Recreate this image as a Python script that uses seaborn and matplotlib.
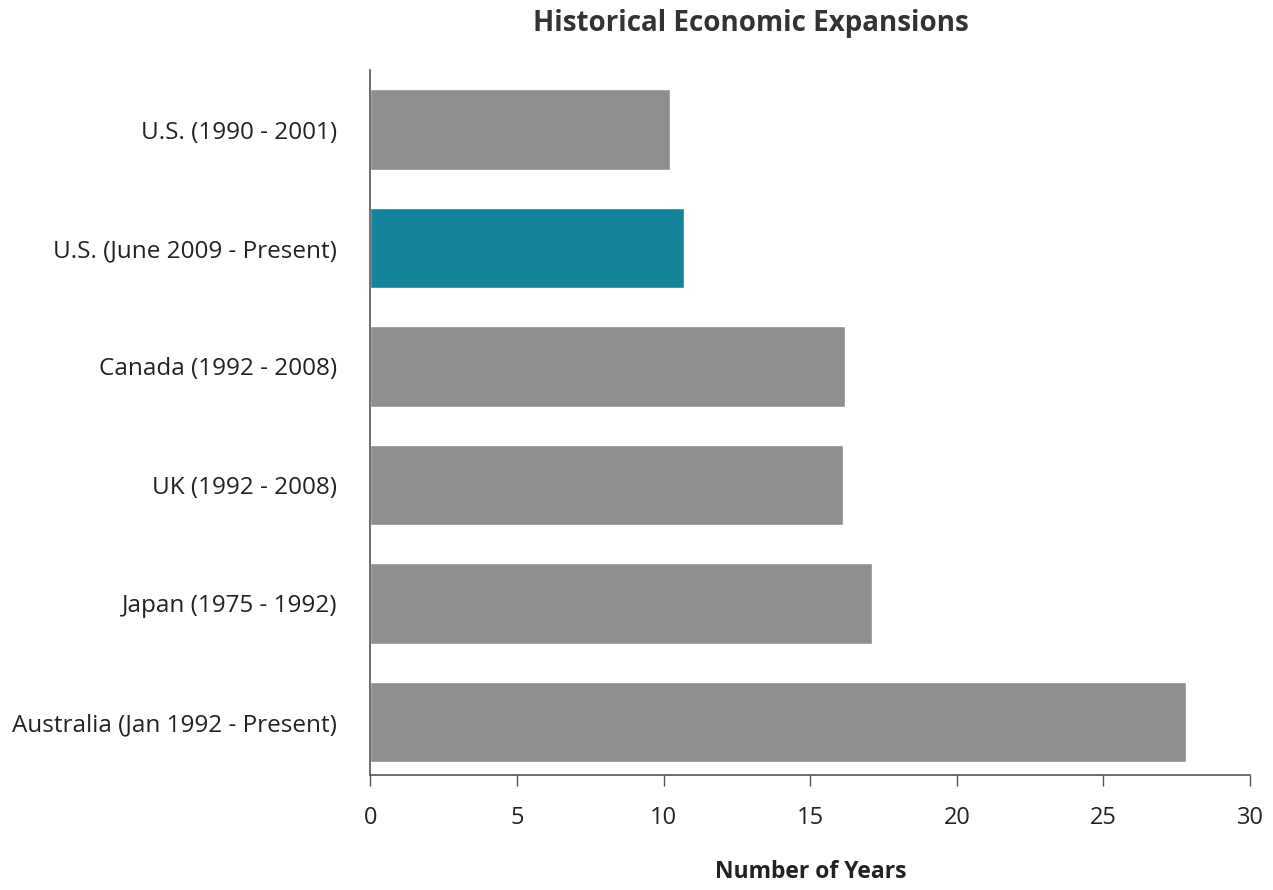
import matplotlib
matplotlib.use("Agg")
import matplotlib.pyplot as plt
import seaborn as sns
import pandas as pd

# Length of each expansion, in years
expansions = [
    "U.S. (1990 - 2001)",
    "U.S. (June 2009 - Present)",
    "Canada (1992 - 2008)",
    "UK (1992 - 2008)",
    "Japan (1975 - 1992)",
    "Australia (Jan 1992 - Present)",
]
years = [10.2, 10.7, 16.2, 16.1, 17.1, 27.8]
highlight = "U.S. (June 2009 - Present)"
x_ticks = [0, 5, 10, 15, 20, 25, 30]

sns.set_theme(style="white")
plt.rcParams["font.family"] = ["Open Sans", "DejaVu Sans"]

df = pd.DataFrame({"expansion": expansions, "years": years})
palette = {e: ("#13849a" if e == highlight else "#8f8f8f") for e in expansions}

fig = plt.figure(figsize=(12.73, 8.9), dpi=100)
ax = fig.add_axes([0.291, 0.129, 0.691, 0.792])

sns.barplot(data=df, x="years", y="expansion", hue="expansion", palette=palette,
            order=expansions, width=0.68, legend=False, ax=ax, saturation=1)

ax.set_xlim(0, 30)
ax.set_ylim(5.45, -0.50)
ax.set_xticks(x_ticks)
ax.set_xticklabels([str(t) for t in x_ticks], fontsize=17, color="#222222")
ax.tick_params(axis="x", bottom=True, direction="out", length=8, width=1,
               color="#555555", pad=14)
ax.tick_params(axis="y", left=False, length=0, labelsize=17.5, labelcolor="#222222", pad=24)

for s in ["top", "right"]:
    ax.spines[s].set_visible(False)
for s in ["left", "bottom"]:
    ax.spines[s].set_color("#555555")
    ax.spines[s].set_linewidth(1.2)

ax.set_ylabel("")
ax.set_xlabel("Number of Years", fontsize=16.5, fontweight="bold", color="#222222", labelpad=22)
fig.suptitle("Historical Economic Expansions", x=0.59, y=0.99, fontsize=20,
             fontweight="bold", color="#333333")

fig.savefig("out.png", dpi=100, facecolor="white")
